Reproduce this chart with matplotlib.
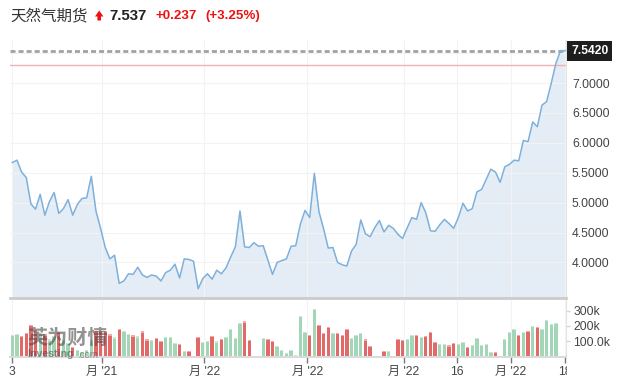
import matplotlib
matplotlib.use('Agg')
import matplotlib.pyplot as plt
import numpy as np
from matplotlib.transforms import blended_transform_factory, Bbox, TransformedBbox
from matplotlib.patches import Polygon

# ---------------- data ----------------
price = [5.67, 5.71, 5.51, 5.42, 4.98, 4.89, 5.14, 4.79, 5.02, 5.17,
         4.82, 4.90, 5.05, 4.79, 4.97, 5.07, 5.08, 5.44, 4.86, 4.57,
         4.25, 4.06, 4.12, 3.65, 3.69, 3.81, 3.80, 3.92, 3.79, 3.75,
         3.79, 3.77, 3.69, 3.83, 3.87, 3.97, 3.74, 4.06, 4.05, 4.02,
         3.56, 3.73, 3.81, 3.72, 3.87, 3.81, 3.91, 4.09, 4.26, 4.86,
         4.26, 4.25, 4.33, 4.27, 4.28, 4.04, 3.80, 4.00, 4.03, 4.06,
         4.27, 4.28, 4.64, 4.87, 4.75, 5.49, 4.85, 4.56, 4.24, 4.25,
         4.00, 3.96, 3.94, 4.19, 4.30, 4.71, 4.48, 4.43, 4.58, 4.70,
         4.51, 4.62, 4.57, 4.47, 4.40, 4.58, 4.75, 4.72, 5.00, 4.83,
         4.53, 4.52, 4.63, 4.72, 4.65, 4.57, 4.75, 4.99, 4.86, 4.90,
         5.18, 5.22, 5.39, 5.56, 5.51, 5.34, 5.60, 5.64, 5.71, 5.70,
         6.04, 6.02, 6.35, 6.27, 6.63, 6.69, 7.00, 7.33, 7.542, 7.542]

volume_k = [140, 147, 134, 152, 206, 173, 152, 145, 112, 135,
            160, 110, 88, 64, 43, 32, 45, 105, 169, 169,
            169, 145, 125, 178, 165, 147, 138, 132, 164, 112,
            108, 120, 102, 126, 126, 87, 83, 37, 37, 4,
            129, 96, 102, 135, 98, 116, 129, 181, 122, 222,
            229, 109, 0, 0, 122, 116, 102, 70, 44, 24,
            44, 7, 265, 160, 140, 310, 206, 154, 192, 153,
            153, 139, 180, 120, 140, 153, 112, 67, 0, 0,
            39, 39, 4, 113, 107, 113, 140, 140, 126, 133,
            159, 94, 81, 81, 72, 87, 81, 94, 65, 74,
            120, 74, 81, 28, 28, 0, 113, 159, 179, 140,
            159, 166, 198, 192, 179, 238, 211, 218, 0, 0]

x_tick_pos = [0, 19.3, 41.3, 63.5, 84.3, 95.7, 107.3, 119.0]
x_tick_labels = ['3', "月 '21", "月 '22", "月 '22", "月 '22", '16', "月 '22", '18']

price_ticks = [4.0, 4.5, 5.0, 5.5, 6.0, 6.5, 7.0, 7.5]
price_tick_labels = ['4.0000', '4.5000', '5.0000', '5.5000', '6.0000', '6.5000', '7.0000', '']

vol_ticks = [100, 200, 300]
vol_tick_labels = ['100.0k', '200k', '300k']

last_price = 7.542
prev_close = 7.300
title_name = '天然气期货'
title_price = '7.537'
title_change = '+0.237'
title_pct = '(+3.25%)'

# ---------------- style ----------------
plt.rcParams['font.family'] = ['Liberation Sans', 'Noto Sans CJK SC', 'DejaVu Sans']
plt.rcParams['lines.scale_dashes'] = False

W, H = 621, 385
fig = plt.figure(figsize=(W / 100, H / 100), dpi=100)
fig.patch.set_facecolor('white')


def fx(x):
    return x / W


def fy(y):
    return 1 - y / H


price = np.array(price)
vol = np.array(volume_k, dtype=float)
idx = np.arange(len(price))

ax_p = fig.add_axes([fx(10), fy(298), (566 - 10) / W, (298 - 40) / H])
ax_v = fig.add_axes([fx(10), fy(356.5), (566 - 10) / W, (356.5 - 300) / H])

XMIN, XMAX = -0.5, 119.17
GRID = '#f3f3f3'

# ---- price panel ----
ax_p.fill_between(idx, price, 3.0, color='#e4edf5', lw=0, zorder=1)
ax_p.plot(idx, price, color='#7db0dc', lw=1.1, zorder=3)
ax_p.set_xlim(XMIN, XMAX)
ax_p.set_ylim(3.405, 7.72)
ax_p.set_xticks(x_tick_pos)
ax_p.tick_params(axis='x', length=0, labelbottom=False)
ax_p.yaxis.tick_right()
ax_p.set_yticks(price_ticks, price_tick_labels)
ax_p.tick_params(axis='y', length=0, pad=4.3, labelsize=8.7, labelcolor='#444444')
ax_p.grid(True, color=GRID, lw=0.8, zorder=1.5)
for s in ['top', 'left']:
    ax_p.spines[s].set_visible(False)
ax_p.spines['right'].set_color('#e3e3e3')
ax_p.spines['bottom'].set_color('#cbcbcb')
ax_p.spines['bottom'].set_linewidth(2)

ax_p.axhline(prev_close, color='#f3b1b1', lw=1, zorder=2)
ax_p.axhline(last_price, color='#a2a2a2', lw=2, dashes=(3.6, 2.2), zorder=2)

btr = blended_transform_factory(ax_p.transAxes, ax_p.transData)
ax_p.text(1.0094, last_price, f'{last_price:.4f}', transform=btr, ha='left', va='center',
          color='white', fontweight='bold', fontsize=8.7, clip_on=False,
          bbox=dict(boxstyle='square,pad=0.33', fc='#1e1e1e', ec='none'))

# ---- volume panel ----
up = np.concatenate([[True], np.diff(price) >= 0])
bar_colors = np.where(up, '#a3d6b6', '#e36868')
cap_colors = np.where(up, '#c9e8d4', '#f1a9a9')
cap = 8.0
ax_v.bar(idx, vol, width=0.72, color=bar_colors, lw=0, zorder=2)
cap_h = np.where(vol > 0, np.minimum(vol, cap), 0)
ax_v.bar(idx, cap_h, bottom=vol - cap_h, width=0.72, color=cap_colors, lw=0, zorder=2.1)
ax_v.set_xlim(XMIN, XMAX)
ax_v.set_ylim(0, 369)
ax_v.yaxis.tick_right()
ax_v.set_yticks(vol_ticks, vol_tick_labels)
ax_v.tick_params(axis='y', length=3, width=1, color='#d6d6d6', pad=2.2,
                 labelsize=8.7, labelcolor='#444444')
ax_v.set_xticks(x_tick_pos, x_tick_labels)
ax_v.tick_params(axis='x', length=4, width=1, color='#777777', pad=2.5,
                 labelsize=8.7, labelcolor='#444444')
ax_v.grid(True, axis='x', color=GRID, lw=0.8, zorder=1)
for s in ['top', 'left']:
    ax_v.spines[s].set_visible(False)
ax_v.spines['right'].set_color('#e3e3e3')
ax_v.spines['bottom'].set_color('#dadada')
ax_v.spines['bottom'].set_linewidth(1.5)

clipbox = TransformedBbox(Bbox([[0, 0], [567 / W, 1]]), fig.transFigure)
fig.canvas.draw()
lbl = ax_v.get_xticklabels()[-1]
lbl.set_clip_on(True)
lbl.set_clip_box(clipbox)

# ---- title ----
fig.text(fx(10), fy(15.5), title_name, fontsize=11.2, color='#333333', ha='left', va='center',
         family=['Noto Sans CJK SC'])
arrow = Polygon([[fx(95), fy(16.5)], [fx(99.2), fy(10.5)], [fx(103.4), fy(16.5)],
                 [fx(101.0), fy(16.5)], [fx(101.0), fy(20.5)], [fx(97.4), fy(20.5)],
                 [fx(97.4), fy(16.5)]], closed=True, transform=fig.transFigure,
                fc='#ee1111', ec='none')
fig.patches.append(arrow)
fig.text(fx(109.5), fy(16), title_price, fontsize=10.8, fontweight='bold', color='#222222',
         ha='left', va='center')
fig.text(fx(156), fy(16), title_change, fontsize=9.6, fontweight='bold', color='#ee1111',
         ha='left', va='center')
fig.text(fx(205), fy(16), title_pct, fontsize=9.6, fontweight='bold', color='#ee1111',
         ha='left', va='center')

# ---- watermark ----
fig.text(fx(27), fy(337), '英为财情', fontsize=14.5, fontweight='bold', color='#4a4a4a',
         alpha=0.6, ha='left', va='center', family=['Noto Sans CJK SC'])
fig.text(fx(27), fy(354), 'Investing', fontsize=7.6, fontweight='bold', color='#4a4a4a',
         alpha=0.6, ha='left', va='center')
fig.text(fx(77), fy(354.5), '.com', fontsize=7.0, color='#4a4a4a',
         alpha=0.5, ha='left', va='center')

fig.savefig('out.png', dpi=100)
